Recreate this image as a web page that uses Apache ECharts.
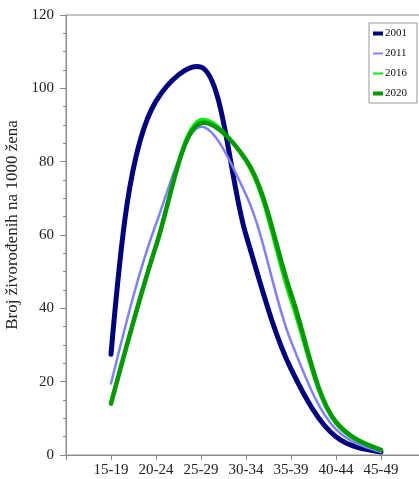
<!DOCTYPE html>
<html>
<head>
<meta charset="utf-8">
<script src="https://cdn.jsdelivr.net/npm/echarts@6/dist/echarts.min.js"></script>
<style>
html,body{margin:0;padding:0;background:#fff;}
#chart{width:419px;height:479px;}
</style>
</head>
<body>
<div id="chart"></div>
<script>
const ageGroups = ['15-19','20-24','25-29','30-34','35-39','40-44','45-49'];
const years = ['2001','2011','2016','2020'];
const y2001 = [27.5, 96.5, 105.8, 60, 23.5, 5, 0.8];
const y2011 = [19.5, 63, 89.5, 71, 31, 7, 0.8];
const y2016 = [14.5, 57.5, 91.5, 80, 42, 8.5, 1.2];
const y2020 = [14, 57, 90.5, 80.5, 44, 9, 1.4];
const yTicks = [0, 20, 40, 60, 80, 100, 120];

const colors = ['#000080', '#8080ff', '#00ee00', '#009900'];
const widths = [5, 2.5, 3, 4.5];
const icons = ['path://M0,0H10V4H0Z', 'path://M0,0H10V2H0Z', 'path://M0,0H10V2H0Z', 'path://M0,0H10V4H0Z'];
const values = [y2001, y2011, y2016, y2020];

// Centripetal Catmull-Rom curve through the data points (already mapped by the chart's axes).
function smoothPathData(pts) {
  const n = pts.length;
  const dl = [];
  for (let i = 0; i < n - 1; i++) {
    dl.push(Math.max(Math.sqrt(Math.hypot(pts[i + 1][0] - pts[i][0], pts[i + 1][1] - pts[i][1])), 1e-6));
  }
  const m = [];
  for (let i = 1; i < n - 1; i++) {
    const a = dl[i - 1], b = dl[i];
    m[i] = [0, 1].map(k =>
      (b / (a + b)) * (pts[i][k] - pts[i - 1][k]) / a + (a / (a + b)) * (pts[i + 1][k] - pts[i][k]) / b);
  }
  m[0] = [0, 1].map(k => (3 * (pts[1][k] - pts[0][k]) / dl[0] - m[1][k]) / 2);
  m[n - 1] = [0, 1].map(k => (3 * (pts[n - 1][k] - pts[n - 2][k]) / dl[n - 2] - m[n - 2][k]) / 2);
  let d = 'M' + pts[0][0] + ',' + pts[0][1];
  for (let i = 0; i < n - 1; i++) {
    const h = dl[i] / 3;
    const c1x = pts[i][0] + m[i][0] * h, c1y = pts[i][1] + m[i][1] * h;
    const c2x = pts[i + 1][0] - m[i + 1][0] * h, c2y = pts[i + 1][1] - m[i + 1][1] * h;
    d += ' C' + c1x + ',' + c1y + ' ' + c2x + ',' + c2y + ' ' + pts[i + 1][0] + ',' + pts[i + 1][1];
  }
  return d;
}

const serif = '"Liberation Serif","DejaVu Serif",serif';
const chart = echarts.init(document.getElementById('chart'));
chart.setOption({
  animation: false,
  backgroundColor: '#fff',
  grid: {left: 66, top: 15, bottom: 24, right: -7, show: true, borderColor: '#8a8a8a', borderWidth: 1,
    containLabel: false, outerBoundsMode: 'none'},
  legend: {
    orient: 'vertical', left: 369, top: 23,
    padding: [5, 10, 4, 4],
    itemWidth: 10, itemHeight: 10, itemGap: 9,
    symbolKeepAspect: true,
    borderColor: '#999', borderWidth: 1,
    textStyle: {fontFamily: serif, fontSize: 11, color: '#111', padding: [0, 0, 0, -3]},
    data: years.map((y, i) => ({name: y, icon: icons[i], itemStyle: {color: colors[i]}}))
  },
  xAxis: {
    type: 'value', min: 0, max: 8, interval: 1,
    axisLine: {lineStyle: {color: '#8a8a8a'}},
    axisTick: {show: true, length: 5, lineStyle: {color: '#8a8a8a'}},
    splitLine: {show: false},
    axisLabel: {fontFamily: serif, fontSize: 15, color: '#222', margin: 8,
      formatter: v => ageGroups[v - 1] || ''}
  },
  yAxis: {
    type: 'value', min: yTicks[0], max: yTicks[yTicks.length - 1], interval: 20,
    name: 'Broj živorođenih na 1000 žena', nameLocation: 'middle', nameGap: 31,
    nameTextStyle: {fontFamily: serif, fontSize: 17, color: '#222', padding: [0, 0, 0, 20]},
    axisLine: {show: true, lineStyle: {color: '#8a8a8a'}},
    axisTick: {show: true, length: 6, lineStyle: {color: '#8a8a8a'}},
    minorTick: {show: true, splitNumber: 4, length: 3, lineStyle: {color: '#8a8a8a'}},
    splitLine: {show: false},
    axisLabel: {fontFamily: serif, fontSize: 15, color: '#222', margin: 12}
  },
  series: years.map((y, i) => ({
    name: y, type: 'custom',
    itemStyle: {color: colors[i]},
    data: values[i].map((v, k) => [k + 1, v]),
    renderItem: (params, api) => {
      if (params.dataIndex !== 0) return null;
      const pts = values[i].map((v, k) => api.coord([k + 1, v]));
      return {
        type: 'path',
        shape: {pathData: smoothPathData(pts)},
        style: {fill: 'none', stroke: colors[i], lineWidth: widths[i], lineJoin: 'round', lineCap: 'round'}
      };
    }
  }))
});
</script>
</body>
</html>
